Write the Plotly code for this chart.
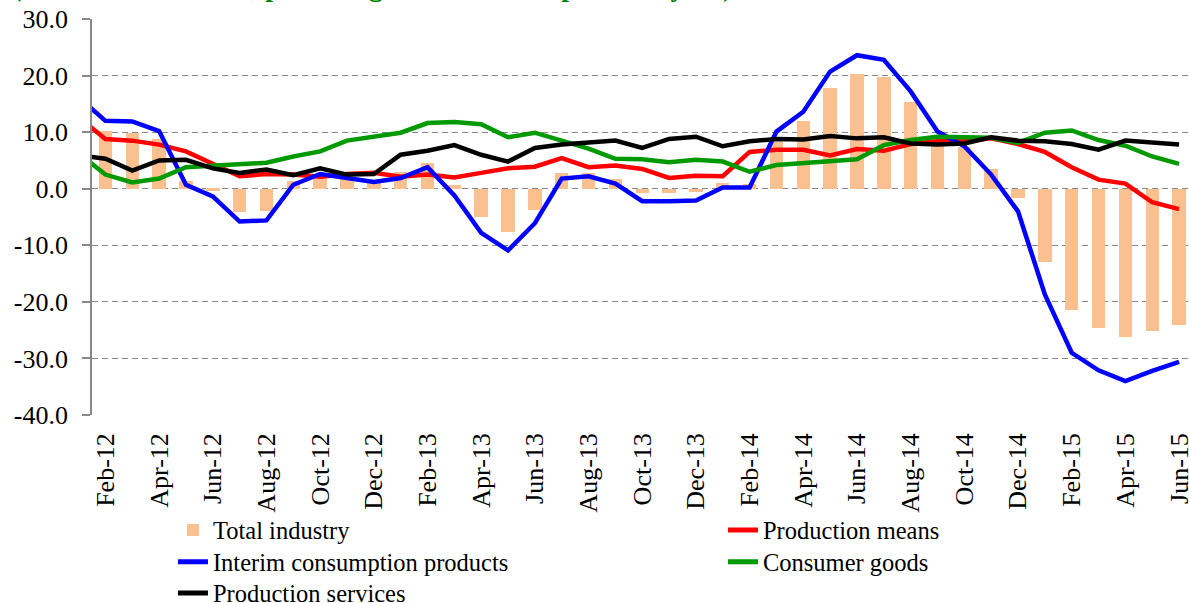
import plotly.graph_objects as go

# ---- data ----
months = ["Feb-12", "Mar-12", "Apr-12", "May-12", "Jun-12", "Jul-12", "Aug-12", "Sep-12", "Oct-12", "Nov-12", "Dec-12",
          "Jan-13", "Feb-13", "Mar-13", "Apr-13", "May-13", "Jun-13", "Jul-13", "Aug-13", "Sep-13", "Oct-13", "Nov-13", "Dec-13",
          "Jan-14", "Feb-14", "Mar-14", "Apr-14", "May-14", "Jun-14", "Jul-14", "Aug-14", "Sep-14", "Oct-14", "Nov-14", "Dec-14",
          "Jan-15", "Feb-15", "Mar-15", "Apr-15", "May-15", "Jun-15"]

total_industry = [10.2, 9.9, 8.8, 1.3, -0.35, -4.1, -3.9, 1.3, 2.0, 1.9, 1.2,
                  2.9, 4.5, 0.6, -5.0, -7.7, -3.7, 2.8, 2.8, 1.8, -0.8, -0.8, -0.5,
                  1.0, 0.9, 8.3, 12.0, 17.8, 20.3, 19.8, 15.4, 9.4, 7.4, 3.4, -1.6,
                  -13.0, -21.4, -24.7, -26.2, -25.1, -24.1]

# line series start one month earlier (Jan-12); that point lies left of the visible axis
line_months = ["Jan-12"] + months

production_means = [12.6,
                    8.8, 8.5, 7.8, 6.6, 4.5, 2.2, 2.6, 2.5, 2.1, 2.6, 2.8,
                    2.1, 2.5, 2.0, 2.8, 3.6, 3.9, 5.4, 3.8, 4.1, 3.5, 1.9, 2.3,
                    2.2, 6.5, 6.9, 6.9, 5.9, 7.0, 6.7, 7.9, 8.4, 8.4, 8.9, 7.9,
                    6.5, 3.8, 1.6, 0.9, -2.4, -3.6]

interim_consumption = [16.2,
                       12.0, 11.9, 10.2, 0.7, -1.35, -5.8, -5.6, 0.7, 2.6, 1.9, 1.2,
                       1.9, 3.8, -1.2, -7.8, -10.9, -6.1, 1.8, 2.2, 0.9, -2.2, -2.2, -2.1,
                       0.2, 0.2, 10.1, 13.6, 20.7, 23.6, 22.8, 17.2, 10.1, 7.5, 2.5, -4.0,
                       -18.7, -29.0, -32.1, -34.0, -32.2, -30.6]

consumer_goods = [6.3,
                  2.5, 1.1, 1.8, 3.8, 4.1, 4.4, 4.6, 5.7, 6.6, 8.5, 9.1,
                  9.9, 11.6, 11.8, 11.4, 9.1, 9.9, 8.4, 7.1, 5.3, 5.2, 4.7, 5.1,
                  4.8, 3.0, 4.2, 4.5, 4.8, 5.2, 7.7, 8.6, 9.2, 9.1, 9.0, 8.1,
                  9.9, 10.3, 8.6, 7.6, 5.7, 4.4]

production_services = [5.9,
                       5.3, 3.2, 5.0, 5.1, 3.6, 2.8, 3.4, 2.4, 3.6, 2.5, 2.6,
                       6.0, 6.7, 7.7, 6.0, 4.8, 7.2, 7.8, 8.1, 8.5, 7.2, 8.8, 9.2,
                       7.5, 8.4, 8.8, 8.7, 9.3, 8.9, 9.1, 8.0, 7.8, 8.0, 9.1, 8.5,
                       8.4, 7.9, 6.9, 8.5, 8.2, 7.8]

y_ticks = [-40, -30, -20, -10, 0, 10, 20, 30]
y_tick_text = ["-40.0", "-30.0", "-20.0", "-10.0", "0.0", "10.0", "20.0", "30.0"]

title_text = "(Industrial turnover, percentage rate over the previous year)"

# ---- positions on a numeric category axis ----
bar_x = list(range(len(months)))
line_x = list(range(-1, len(months)))
label_idx = list(range(0, len(months), 2))
label_vals = label_idx
label_text = [months[i] for i in label_idx]
tick_bounds = [i - 0.5 for i in label_idx]

FONT = "Times New Roman, Liberation Serif, serif"
GRAY = "#888888"
X_RANGE = [-0.5, 40.37]
LW = 4.5

fig = go.Figure()
fig.add_trace(go.Bar(x=bar_x, y=total_industry, name="Total industry", legend="legend",
                     marker=dict(color="#FAC090", line=dict(width=0)), width=0.5))
fig.add_trace(go.Scatter(x=line_x, y=production_means, name="Production means", mode="lines",
                         legend="legend2", line=dict(color="#FF0000", width=LW)))
fig.add_trace(go.Scatter(x=line_x, y=interim_consumption, name="Interim consumption products", mode="lines",
                         legend="legend3", line=dict(color="#0000FF", width=LW)))
fig.add_trace(go.Scatter(x=line_x, y=consumer_goods, name="Consumer goods", mode="lines",
                         legend="legend4", line=dict(color="#009900", width=LW)))
fig.add_trace(go.Scatter(x=line_x, y=production_services, name="Production services", mode="lines",
                         legend="legend5", line=dict(color="#000000", width=LW)))

zero_pos = (0 - y_ticks[0]) / (y_ticks[-1] - y_ticks[0])

# legend grid: two columns, three rows below the axis labels
col_x = [0.0738, 0.5752]
row_y = [-0.2904, -0.3705, -0.4495]


def leg(cx, ry):
    return dict(orientation="v", x=col_x[cx], xanchor="left", y=row_y[ry], yanchor="middle",
                font=dict(family=FONT, size=24.5, color="black"),
                bgcolor="rgba(0,0,0,0)", borderwidth=0, itemsizing="constant")


fig.update_layout(
    width=1189, height=603, autosize=False,
    margin=dict(l=92, r=0, t=19, b=188, pad=0, autoexpand=False),
    paper_bgcolor="white", plot_bgcolor="white",
    font=dict(family=FONT, size=26, color="black"),
    bargap=0,
    showlegend=True,
    legend=leg(0, 0), legend2=leg(1, 0), legend3=leg(0, 1), legend4=leg(1, 1), legend5=leg(0, 2),
    xaxis=dict(range=X_RANGE, tickmode="array", tickvals=label_vals, ticktext=label_text,
               tickangle=-90, ticks="", showline=False, showgrid=False, zeroline=False,
               automargin=False, ticklabelstandoff=12, ticklabeloverflow="allow",
               tickfont=dict(family=FONT, size=26)),
    xaxis2=dict(range=X_RANGE, overlaying="x", anchor="free", position=zero_pos, side="bottom",
                showline=True, linecolor=GRAY, linewidth=1.6, ticks="outside", ticklen=7,
                tickwidth=1.6, tickcolor=GRAY, tickmode="array", tickvals=tick_bounds,
                showticklabels=False, showgrid=False, zeroline=False),
    yaxis=dict(range=[y_ticks[0], y_ticks[-1]], tickmode="array", tickvals=y_ticks, ticktext=y_tick_text,
               showgrid=True, gridcolor=GRAY, gridwidth=1.3, griddash="6px,4px",
               zeroline=False, showline=True, linecolor=GRAY, linewidth=1.6,
               ticks="outside", ticklen=8, tickwidth=1.6, tickcolor=GRAY, automargin=False,
               ticklabelstandoff=9, tickfont=dict(family=FONT, size=26)),
)

fig.add_annotation(text="<b>" + title_text + "</b>", xref="paper", yref="paper",
                   x=-0.075, xanchor="left", y=1.0825, yanchor="middle", showarrow=False,
                   font=dict(family=FONT, size=28, color="#008000"))

fig.write_html("out.html", config={"displayModeBar": False},
               post_script="document.body.style.margin='0';document.body.style.overflow='hidden';")
